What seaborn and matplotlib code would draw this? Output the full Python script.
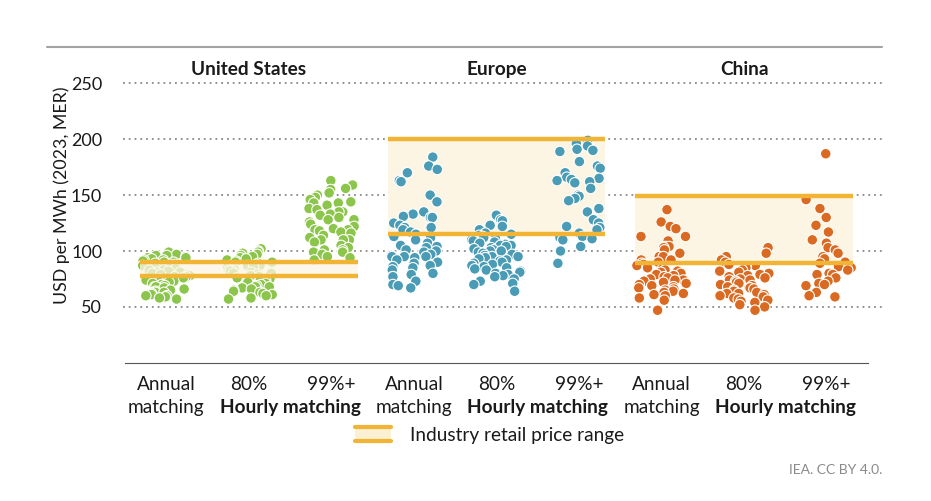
import numpy as np
import pandas as pd
import matplotlib.pyplot as plt
import matplotlib.transforms as mtransforms
from matplotlib.lines import Line2D
from matplotlib.patches import Rectangle
import seaborn as sns

# regions and matching cases
regions = ["United States", "Europe", "China"]
cases = ["Annual", "80%", "99%+"]
region_colors = ["#8cc54b", "#4a9bb5", "#da6a21"]

# price estimates (USD/MWh)
us_annual = [99, 97, 96, 96, 95, 94, 94, 93, 92, 92, 91, 90, 90, 89, 88, 88, 87, 86, 86, 85,
             85, 84, 83, 83, 82, 81, 81, 80, 79, 79, 78, 77, 77, 76, 75, 74, 73, 72, 72, 71,
             70, 69, 68, 68, 67, 66, 65, 64, 63, 63, 62, 61, 60, 60, 59, 58, 57]
us_80 = [102, 100, 99, 98, 97, 96, 95, 94, 93, 92, 91, 90, 90, 89, 88, 87, 87, 86, 85, 85,
         84, 83, 83, 82, 81, 80, 80, 79, 78, 77, 76, 75, 74, 73, 72, 71, 70, 69, 68, 68,
         67, 66, 65, 64, 63, 62, 61, 60, 58, 57]
us_99 = [163, 159, 156, 155, 152, 150, 148, 146, 144, 143, 143, 141, 138, 137, 135, 135, 133,
         132, 130, 128, 128, 126, 126, 124, 122, 120, 119, 119, 118, 117, 116, 114, 112, 110,
         110, 110, 108, 105, 103, 101, 101, 99, 99, 97, 95, 94, 92]
eu_annual = [184, 176, 173, 170, 163, 162, 150, 144, 135, 133, 131, 130, 130, 125, 123, 121,
             121, 121, 119, 117, 115, 113, 112, 110, 107, 105, 104, 103, 101, 100, 99, 97, 96,
             95, 95, 95, 94, 92, 90, 89, 87, 86, 85, 83, 80, 79, 77, 77, 73, 70, 69, 67]
eu_80 = [132, 128, 127, 123, 122, 119, 116, 115, 114, 113, 112, 111, 110, 109, 108, 107, 106,
         105, 105, 104, 103, 102, 101, 100, 100, 99, 98, 97, 96, 95, 95, 94, 93, 92, 91, 90,
         89, 88, 87, 86, 85, 84, 83, 82, 81, 80, 79, 78, 77, 75, 73, 71, 70, 64]
eu_99 = [199, 196, 194, 191, 190, 189, 180, 176, 174, 170, 166, 165, 164, 163, 162, 161, 156,
         150, 149, 147, 145, 138, 135, 128, 125, 122, 121, 119, 116, 113, 112, 111, 110, 104,
         100, 89]
cn_annual = [137, 126, 122, 120, 113, 113, 109, 104, 104, 103, 101, 98, 95, 95, 92, 92, 90, 89,
             88, 87, 86, 85, 84, 83, 82, 81, 80, 79, 78, 77, 76, 75, 74, 74, 73, 72, 71, 70,
             69, 68, 67, 66, 65, 64, 63, 62, 61, 60, 58, 56, 47]
cn_80 = [103, 98, 95, 92, 90, 88, 87, 86, 85, 83, 82, 81, 80, 79, 78, 77, 76, 75, 74, 74, 73,
         72, 71, 70, 69, 68, 67, 67, 66, 65, 64, 63, 62, 62, 61, 60, 59, 58, 57, 56, 55, 54,
         52, 50, 47]
cn_99 = [187, 146, 138, 130, 123, 117, 110, 107, 103, 101, 98, 98, 95, 93, 90, 89, 86, 85, 83,
         80, 79, 79, 76, 73, 71, 70, 69, 63, 60, 59]

# industry retail price range per region
band_low = [77.5, 115, 89.5]
band_high = [90.5, 200, 149]

series = [[us_annual, us_80, us_99], [eu_annual, eu_80, eu_99], [cn_annual, cn_80, cn_99]]
rows = []
for region, vals in zip(regions, series):
    for case, v in zip(cases, vals):
        for p in v:
            rows.append({"region": region, "key": region + "|" + case, "price": p})
df = pd.DataFrame(rows)
order = [r + "|" + c for r in regions for c in cases]

sns.set_style("white")
plt.rcParams["font.family"] = ["Lato", "DejaVu Sans"]
txt = "#1a1a1a"
fs = 13.7

fig = plt.figure(figsize=(9.31, 5.01), dpi=100)
ax = fig.add_axes([123 / 931, 1 - 362.8 / 501, 759 / 931, 318.6 / 501])

np.random.seed(3)
sns.stripplot(data=df, x="key", y="price", hue="region", order=order,
              palette=region_colors, jitter=0.3, size=7.6, linewidth=0.8,
              edgecolor="white", legend=False, ax=ax, zorder=3)

# retail price bands
for i in range(3):
    c = 3 * i + 1
    ax.fill_between([c - 1.32, c + 1.32], band_low[i], band_high[i], color="#fdf5e3",
                    alpha=0.75 if i == 0 else 1, zorder=4 if i == 0 else 1, lw=0)
    ax.hlines([band_low[i], band_high[i]], c - 1.32, c + 1.32, color="#f1b434", lw=3.2, zorder=5)
    ax.text(c, 262, regions[i], ha="center", va="center", fontsize=fs,
            fontweight="bold", color=txt)

ax.set_xlim(-0.524, 8.67)
ax.set_ylim(0, 285)
ax.set_yticks([50, 100, 150, 200, 250])
ax.yaxis.grid(True, linestyle=(0, (1, 2.2)), color="#8a8a8a", lw=1.3)
ax.xaxis.grid(False)
ax.set_axisbelow(True)
for s in ["top", "right", "left"]:
    ax.spines[s].set_visible(False)
ax.spines["bottom"].set_bounds(-0.5, 8.5)
ax.spines["bottom"].set_color("#555555")
ax.set_xticks([-0.5, 0.5, 2.5, 3.5, 5.5, 6.5, 8.5])
ax.set_xticklabels([])
ax.tick_params(axis="x", length=9, width=1, color="#555555", direction="out")
ax.tick_params(axis="y", length=0, pad=15, labelsize=13, labelcolor=txt)
ax.set_xlabel("")
ax.set_ylabel("")
fig.text(62 / 931, 1 - 195 / 501, "USD per MWh (2023, MER)", rotation=90,
         ha="center", va="center", fontsize=12.8, color=txt)

# category labels under the axis
tr = mtransforms.blended_transform_factory(ax.transData, fig.transFigure)
for i in range(3):
    c = 3 * i + 1
    ax.text(c - 1, 1 - 384 / 501, "Annual", transform=tr, ha="center", va="center",
            fontsize=fs, color=txt)
    ax.text(c - 1, 1 - 408 / 501, "matching", transform=tr, ha="center", va="center",
            fontsize=fs, color=txt)
    ax.text(c, 1 - 384 / 501, "80%", transform=tr, ha="center", va="center",
            fontsize=fs, color=txt)
    ax.text(c + 1, 1 - 384 / 501, "99%+", transform=tr, ha="center", va="center",
            fontsize=fs, color=txt)
    ax.text(c + 0.5, 1 - 408 / 501, "Hourly matching", transform=tr, ha="center",
            va="center", fontsize=fs, fontweight="bold", color=txt)

# legend swatch
fig.add_artist(Rectangle((355 / 931, 1 - 441 / 501), 36 / 931, 14 / 501,
                         transform=fig.transFigure, color="#fcf0d2", lw=0))
for py in (427, 441):
    fig.add_artist(Line2D([355 / 931, 391 / 931], [1 - py / 501] * 2,
                          transform=fig.transFigure, color="#f1b434", lw=3))
fig.text(410 / 931, 1 - 436 / 501, "Industry retail price range", ha="left", va="center",
         fontsize=fs, color=txt)

# top rule and source
fig.add_artist(Line2D([47 / 931, 882 / 931], [1 - 47 / 501] * 2,
                      transform=fig.transFigure, color="#a3a3a3", lw=1.5))
fig.text(882 / 931, 1 - 470 / 501, "IEA. CC BY 4.0.", ha="right", va="center",
         fontsize=10, color="#8a8a8a")

fig.savefig("out.png", dpi=100)
